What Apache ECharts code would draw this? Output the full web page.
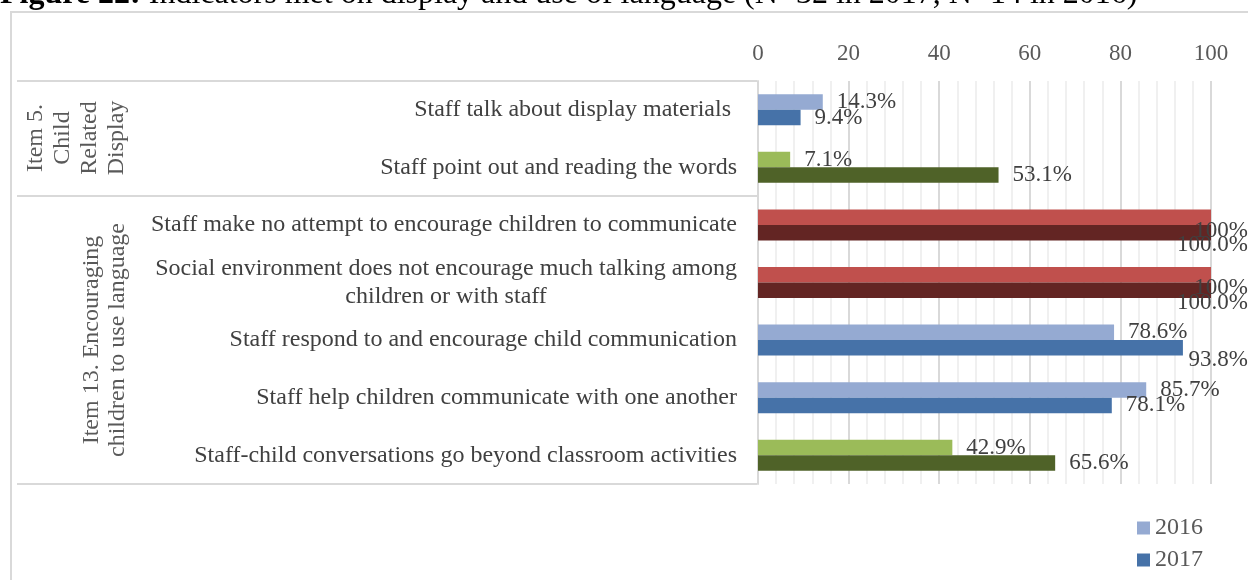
<!DOCTYPE html>
<html><head><meta charset="utf-8">
<script src="https://cdn.jsdelivr.net/npm/echarts@6/dist/echarts.min.js"></script>
<style>html,body{margin:0;padding:0;background:#fff}#c{width:1248px;height:580px}</style>
</head><body><div id="c"></div>
<script>
const categories = [
  'Staff talk about display materials ',
  'Staff point out and reading the words',
  'Staff make no attempt to encourage children to communicate',
  'Social environment does not encourage much talking among\nchildren or with staff',
  'Staff respond to and encourage child communication',
  'Staff help children communicate with one another',
  'Staff-child conversations go beyond classroom activities'
];
const values2016 = [14.3, 7.1, 100, 100, 78.6, 85.7, 42.9];
const values2017 = [9.4, 53.1, 100, 100, 93.8, 78.1, 65.6];
const colors2016 = ['#95aad2', '#9bbb59', '#c0504d', '#c0504d', '#95aad2', '#95aad2', '#9bbb59'];
const colors2017 = ['#4672a8', '#4f6228', '#632523', '#632523', '#4672a8', '#4672a8', '#4f6228'];
const seriesNames = ['2016', '2017'];
const groupLabels = ['Item 5.\nChild\nRelated\nDisplay', 'Item 13. Encouraging\nchildren to use language'];
const titleBold = 'Figure 22:';
const titleRest = ' Indicators met on display and use of language (N=32 in 2017, N=14 in 2016)';

const FONT = '"Liberation Serif", "Times New Roman", serif';
const chart = echarts.init(document.getElementById('c'));
const W = 1248;

function clampLayout(params) {
  const r = params.labelRect;
  if (r.x + r.width > W) return { x: W - r.width };
  return {};
}

function labelCfg(fmt, dy) {
  return {
    show: true, position: 'right', distance: 14, offset: [0, dy],
    color: '#404040', fontFamily: FONT, fontSize: 23,
    formatter: fmt
  };
}

function legendCfg(name, top) {
  return {
    data: [name], orient: 'vertical', left: 1137, top: top, padding: 0,
    icon: 'rect', itemWidth: 13, itemHeight: 13,
    textStyle: { color: '#595959', fontFamily: FONT, fontSize: 24 }
  };
}

const option = {
  animation: false,
  backgroundColor: '#fff',
  grid: { left: 758, right: 37, top: 81, height: 403, containLabel: false },
  xAxis: {
    type: 'value', position: 'top', min: 0, max: 100, interval: 20,
    axisLine: { show: false }, axisTick: { show: false },
    axisLabel: { color: '#595959', fontFamily: FONT, fontSize: 23, margin: 16,
      formatter: v => String(v) },
    splitLine: { show: true, lineStyle: { color: '#d9d9d9', width: 2 } },
    minorTick: { show: false, splitNumber: 5 },
    minorSplitLine: { show: true, lineStyle: { color: '#f0f0f0', width: 2 } }
  },
  yAxis: {
    type: 'category', inverse: true, data: categories,
    axisLine: { show: true, lineStyle: { color: '#d9d9d9', width: 2 } },
    axisTick: { show: false },
    axisLabel: {
      color: '#404040', fontFamily: FONT, fontSize: 24, lineHeight: 28, margin: 21,
      formatter: function (v) {
        const parts = v.split('\n');
        if (parts.length === 1) return v;
        return parts[0] + '\n{c|' + parts[1] + '}';
      },
      rich: { c: { align: 'center', color: '#404040', fontFamily: FONT, fontSize: 24, lineHeight: 28 } }
    }
  },
  legend: [legendCfg(seriesNames[0], 516), legendCfg(seriesNames[1], 548)],
  series: [
    {
      name: seriesNames[0], type: 'bar', barWidth: 15.5, barGap: '0%',
      itemStyle: { color: '#95aad2' },
      data: values2016.map((v, i) => ({ value: v, itemStyle: { color: colors2016[i] } })),
      label: labelCfg(p => String(p.value) + '%', 2),
      labelLayout: clampLayout
    },
    {
      name: seriesNames[1], type: 'bar', barWidth: 15.5, barGap: '0%',
      itemStyle: { color: '#4672a8' },
      data: values2017.map((v, i) => ({ value: v, itemStyle: { color: colors2017[i] } })),
      label: labelCfg(p => Number(p.value).toFixed(1) + '%', 1),
      labelLayout: clampLayout
    }
  ],
  graphic: [
    { type: 'rect', silent: true, shape: { x: 11, y: 12, width: 1300, height: 700 },
      style: { fill: null, stroke: '#d9d9d9', lineWidth: 2 } },
    { type: 'line', silent: true, shape: { x1: 17, y1: 81, x2: 757, y2: 81 }, style: { stroke: '#d9d9d9', lineWidth: 2 } },
    { type: 'line', silent: true, shape: { x1: 17, y1: 196, x2: 757, y2: 196 }, style: { stroke: '#d9d9d9', lineWidth: 2 } },
    { type: 'line', silent: true, shape: { x1: 17, y1: 484, x2: 757, y2: 484 }, style: { stroke: '#d9d9d9', lineWidth: 2 } },
    { type: 'text', silent: true, x: 76, y: 138, rotation: Math.PI / 2,
      style: { text: groupLabels[0], fill: '#595959', font: '24px ' + FONT, lineHeight: 27,
        align: 'center', verticalAlign: 'middle' } },
    { type: 'text', silent: true, x: 105, y: 340, rotation: Math.PI / 2,
      style: { text: groupLabels[1], fill: '#595959', font: '24px ' + FONT, lineHeight: 26,
        align: 'center', verticalAlign: 'middle' } },
    { type: 'text', silent: true, x: 0, y: -5,
      style: { text: '{b|' + titleBold + '}' + titleRest,
        fill: '#000', font: '32px ' + FONT, align: 'left', verticalAlign: 'middle',
        rich: { b: { fontWeight: 'bold', fontSize: 32, fontFamily: FONT, fill: '#000' } } } }
  ]
};
chart.setOption(option);
</script>
</body></html>
